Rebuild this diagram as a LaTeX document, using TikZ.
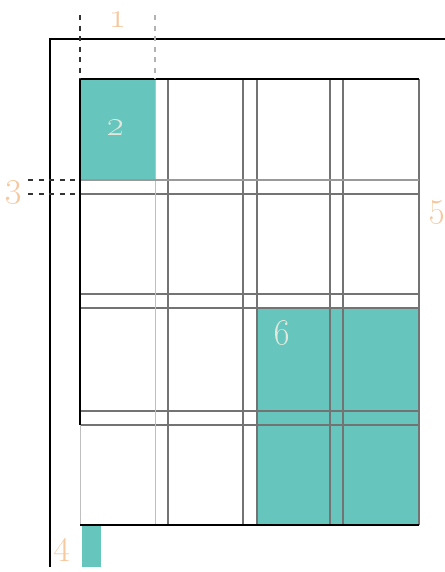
\documentclass[tikz,border=0pt]{standalone}
\usepackage{xcolor}

\definecolor{tealblock}{RGB}{102,197,189}
\definecolor{numorange}{RGB}{245,200,160}
\definecolor{numlight}{RGB}{228,232,220}

\tikzset{
  frameline/.style={black, line width=1.1pt},
  gridline/.style={black!55, line width=0.7pt},
  faintline/.style={black!25, line width=0.5pt},
  guide/.style={black!80, dashed, line width=0.8pt},
  faintguide/.style={black!30, dashed, line width=0.6pt},
  block/.style={fill=tealblock},
  num/.style={text=numorange, font=\fontsize{21}{24}\selectfont},
  blocknum/.style={text=numlight, font=\fontsize{21}{24}\selectfont}
}

\begin{document}
\begin{tikzpicture}[x=0.02cm, y=-0.02cm]

\useasboundingbox (0,0) rectangle (445,572);

% Bloques de color
\fill[block] (80,79) rectangle (155,180);
\fill[block] (257,308) rectangle (419,525);
\fill[block] (82,525) rectangle (101,567);

% Lineas de la reticula
\foreach \x in {168,243,257,330,343}
  \draw[gridline] (\x,79) -- (\x,525);
\foreach \y in {194,294,308,411,425}
  \draw[gridline] (80,\y) -- (419,\y);
\draw[gridline] (419,79) -- (419,525);
\draw[faintline] (155,79) -- (155,525);
\draw[black!40, line width=0.6pt] (80,180) -- (419,180);
\draw[faintline] (80,425) -- (80,525);

% Borde de la caja de texto
\draw[frameline] (80,425) -- (80,79) -- (419,79);
\draw[frameline] (80,525) -- (419,525);

% Borde de la pagina
\draw[frameline] (50,567) -- (50,39) -- (445,39);

% Guias discontinuas
\draw[guide] (80,15) -- (80,79);
\draw[faintguide] (155,15) -- (155,79);
\draw[guide] (28,180) -- (80,180);
\draw[guide] (28,194) -- (80,194);

% Etiquetas
\node[num] (colw) at (118,20) {\oldstylenums{1}};
\node[blocknum] (field) at (116,128) {\oldstylenums{2}};
\node[num] (gutter) at (14,192) {\oldstylenums{3}};
\node[num] (margin) at (62,550) {\oldstylenums{4}};
\node[num] (right) at (437,212) {\oldstylenums{5}};
\node[blocknum] (area) at (282,333) {\oldstylenums{6}};

\end{tikzpicture}
\end{document}
